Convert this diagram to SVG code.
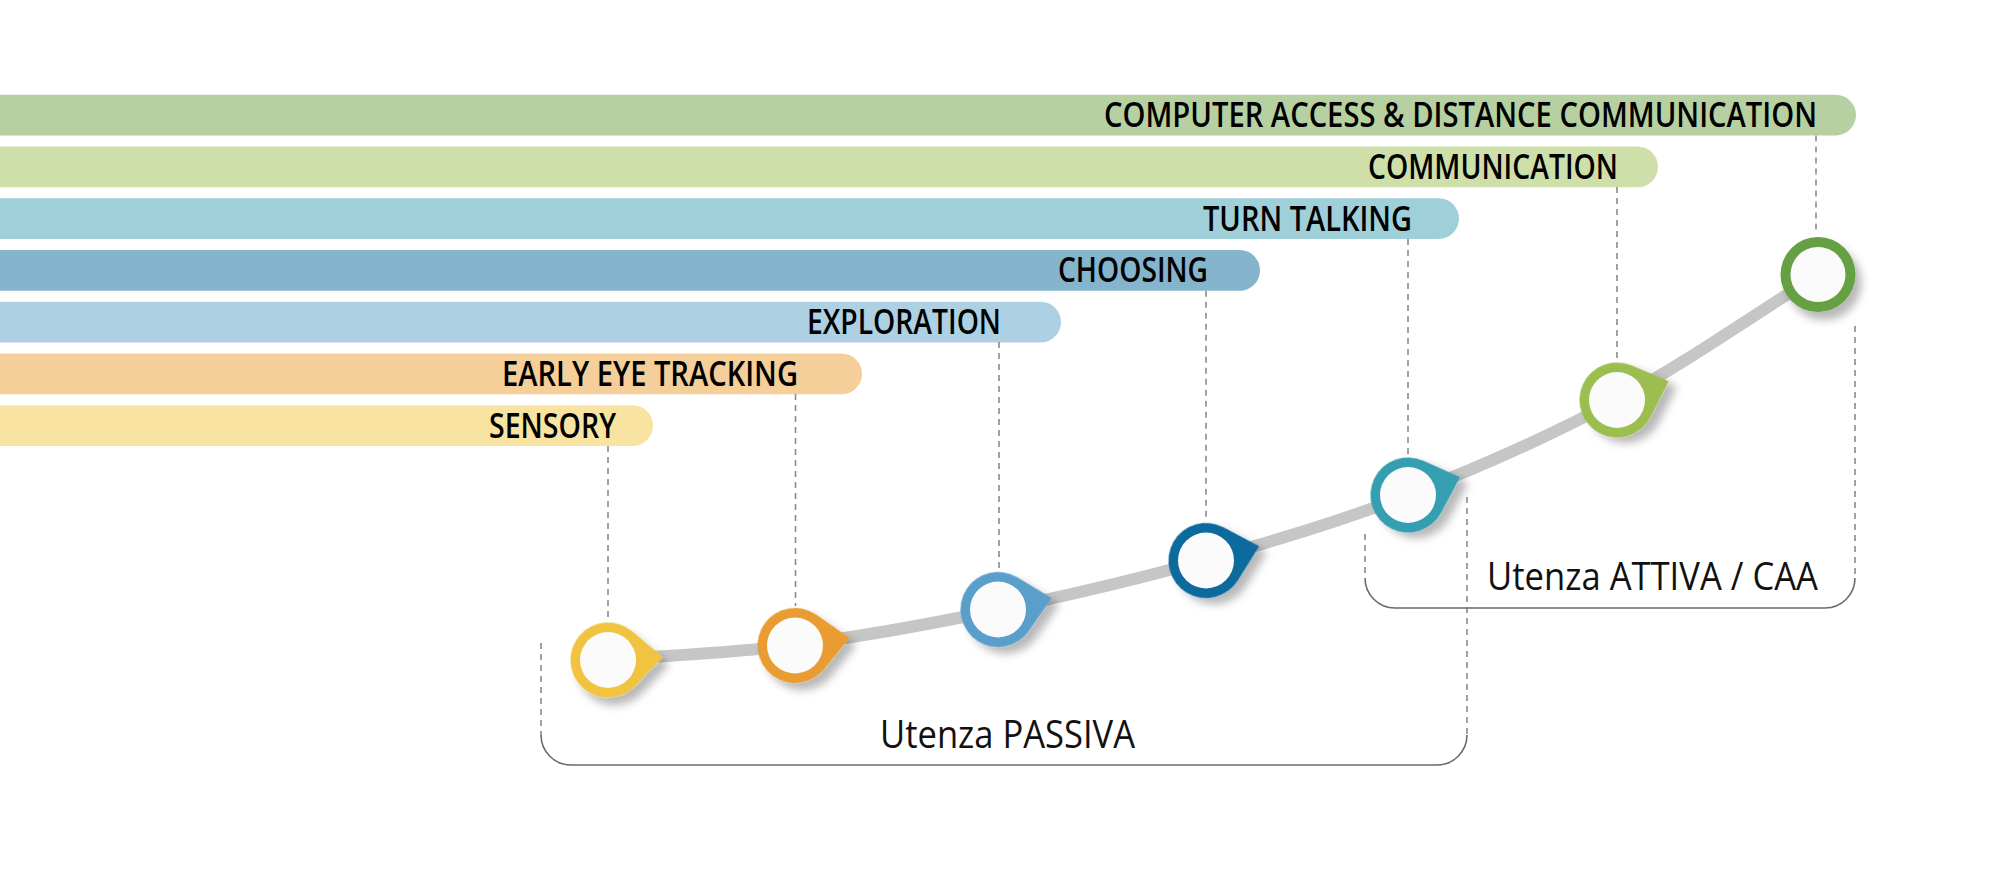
<svg xmlns="http://www.w3.org/2000/svg" width="2000" height="877" viewBox="0 0 2000 877">
<defs>
<style>
.lbl{font-family:"Open Sans","Liberation Sans",sans-serif;font-weight:600;font-size:35px;fill:#000;text-anchor:start}
.grp{font-family:"Open Sans","Liberation Sans",sans-serif;font-weight:400;font-size:39px;fill:#111}
.dash{stroke:#8a8a8a;stroke-width:1.6;stroke-dasharray:6 5;fill:none}
.brk{stroke:#6a6a6a;stroke-width:1.6;fill:none}
.inner{fill:#fbfbfb}
</style>
<filter id="sh" x="-50%" y="-50%" width="200%" height="200%">
<feDropShadow dx="6" dy="8" stdDeviation="4" flood-color="#000" flood-opacity="0.28"/>
</filter>
<path id="pin" d="M25.6,-27.4 L55,0 L25.6,27.4 A37.5,37.5 0 1 1 25.6,-27.4 Z"/>
</defs>
<rect width="2000" height="877" fill="#fff"/>

<g id="bars">
<g id="bar-cad"><rect x="-40" y="94.7" width="1896" height="40.7" rx="20.3" fill="#b7d0a1"/>
<text class="lbl" x="1104" y="127" textLength="713" lengthAdjust="spacingAndGlyphs">COMPUTER ACCESS &amp; DISTANCE COMMUNICATION</text></g>
<g id="bar-communication"><rect x="-40" y="146.5" width="1698" height="40.7" rx="20.3" fill="#cfdfa9"/>
<text class="lbl" x="1368" y="178.8" textLength="250" lengthAdjust="spacingAndGlyphs">COMMUNICATION</text></g>
<g id="bar-turn"><rect x="-40" y="198.2" width="1499" height="40.7" rx="20.3" fill="#9fcfd9"/>
<text class="lbl" x="1203" y="230.5" textLength="209" lengthAdjust="spacingAndGlyphs">TURN TALKING</text></g>
<g id="bar-choosing"><rect x="-40" y="250" width="1300" height="40.7" rx="20.3" fill="#84b5cd"/>
<text class="lbl" x="1058" y="282.2" textLength="150" lengthAdjust="spacingAndGlyphs">CHOOSING</text></g>
<g id="bar-exploration"><rect x="-40" y="301.8" width="1101" height="40.7" rx="20.3" fill="#add0e3"/>
<text class="lbl" x="807" y="334" textLength="194" lengthAdjust="spacingAndGlyphs">EXPLORATION</text></g>
<g id="bar-early"><rect x="-40" y="353.5" width="902" height="40.7" rx="20.3" fill="#f4cf9a"/>
<text class="lbl" x="502" y="385.7" textLength="296" lengthAdjust="spacingAndGlyphs">EARLY EYE TRACKING</text></g>
<g id="bar-sensory"><rect x="-40" y="405.3" width="693" height="40.7" rx="20.3" fill="#f8e3a1"/>
<text class="lbl" x="489" y="437.7" textLength="127" lengthAdjust="spacingAndGlyphs">SENSORY</text></g>
</g>

<g id="connectors">
<path d="M608,660 C670.3,655 730,653.3 795,645 C860,636.7 929.5,624.2 998,610 C1066.5,595.8 1137.7,579.2 1206,560 C1274.3,540.8 1339.5,521.7 1408,495 C1476.5,468.3 1548.7,436.7 1617,400 C1685.3,363.3 1751,316.7 1818,275" fill="none" stroke="#c6c6c6" stroke-width="12"/>
<line class="dash" x1="608" y1="446" x2="608" y2="620"/>
<line class="dash" x1="795.5" y1="394" x2="795.5" y2="606"/>
<line class="dash" x1="999" y1="342" x2="999" y2="569"/>
<line class="dash" x1="1206" y1="290.7" x2="1206" y2="520"/>
<line class="dash" x1="1408" y1="239" x2="1408" y2="455"/>
<line class="dash" x1="1617" y1="187" x2="1617" y2="358"/>
<line class="dash" x1="1816" y1="135.4" x2="1816" y2="233"/>
</g>

<g id="bracket-passiva">
<line class="dash" x1="541" y1="643" x2="541" y2="735"/>
<line class="dash" x1="1467" y1="497" x2="1467" y2="735"/>
<path class="brk" d="M541,735 A30,30 0 0 0 571,765 H1437 A30,30 0 0 0 1467,735"/>
<text class="grp" x="880" y="748" textLength="255" lengthAdjust="spacingAndGlyphs">Utenza PASSIVA</text>
</g>
<g id="bracket-attiva">
<line class="dash" x1="1365" y1="534" x2="1365" y2="578"/>
<line class="dash" x1="1855" y1="326" x2="1855" y2="578"/>
<path class="brk" d="M1365,578 A30,30 0 0 0 1395,608 H1825 A30,30 0 0 0 1855,578"/>
<text class="grp" x="1487" y="589.5" textLength="331" lengthAdjust="spacingAndGlyphs">Utenza ATTIVA / CAA</text>
</g>

<g id="node-sensory" transform="translate(608,660)">
<use href="#pin" transform="rotate(-3)" fill="#f0c43f" filter="url(#sh)"/>
<circle class="inner" r="28"/>
</g>
<g id="node-early" transform="translate(795,645.5)">
<use href="#pin" transform="rotate(-8)" fill="#e89c30" filter="url(#sh)"/>
<circle class="inner" r="28"/>
</g>
<g id="node-exploration" transform="translate(998,609.5)">
<use href="#pin" transform="rotate(-12)" fill="#5a9fcb" filter="url(#sh)"/>
<circle class="inner" r="28"/>
</g>
<g id="node-choosing" transform="translate(1206,560.5)">
<use href="#pin" transform="rotate(-15)" fill="#0b6a9c" filter="url(#sh)"/>
<circle class="inner" r="28"/>
</g>
<g id="node-turn" transform="translate(1408,495)">
<use href="#pin" transform="rotate(-19)" fill="#359eb0" filter="url(#sh)"/>
<circle class="inner" r="28"/>
</g>
<g id="node-communication" transform="translate(1617,400)">
<use href="#pin" transform="rotate(-20)" fill="#9bbe4f" filter="url(#sh)"/>
<circle class="inner" r="28"/>
</g>
<g id="node-cad" transform="translate(1818,274.5)">
<circle r="37.5" fill="#65a043" filter="url(#sh)"/>
<circle class="inner" r="27.5"/>
</g>
</svg>
